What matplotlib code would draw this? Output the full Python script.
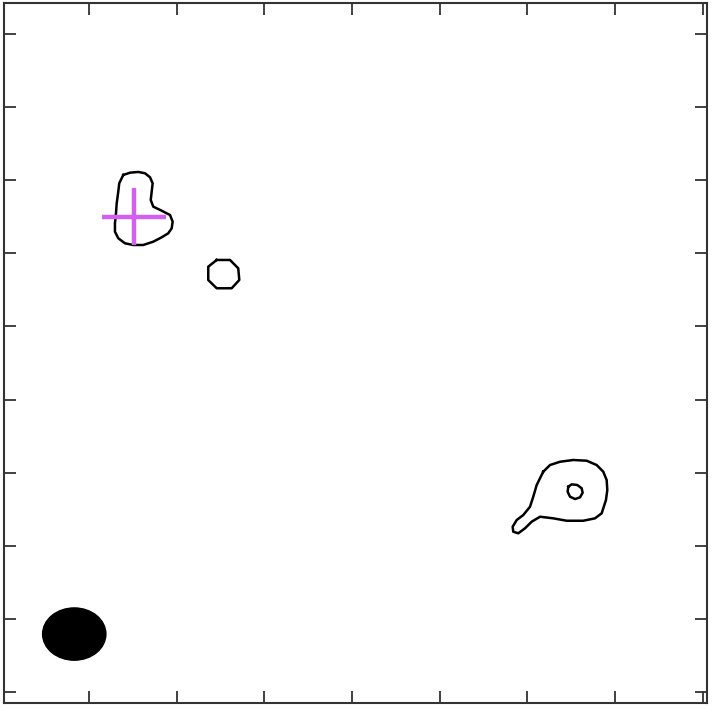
#!/usr/bin/env python3
import numpy as np
import matplotlib
matplotlib.use('Agg')
import matplotlib.pyplot as plt
from matplotlib.patches import Ellipse

# contour outlines (offset units, tick spacing = 1)
blob_x = [1.391, 1.468, 1.562, 1.639, 1.696, 1.726, 1.715, 1.704, 1.733, 1.829, 1.924, 1.954, 1.943,
          1.904, 1.829, 1.733, 1.619, 1.505, 1.410, 1.334, 1.296, 1.296, 1.308, 1.316, 1.334, 1.345]
blob_y = [7.073, 7.104, 7.114, 7.096, 7.041, 6.959, 6.844, 6.731, 6.639, 6.584, 6.525, 6.434, 6.343,
          6.275, 6.220, 6.160, 6.115, 6.115, 6.138, 6.207, 6.297, 6.412, 6.549, 6.685, 6.844, 6.959]

ring_x = [2.456, 2.608, 2.702, 2.714, 2.627, 2.456, 2.360, 2.360]
ring_y = [5.910, 5.910, 5.796, 5.636, 5.523, 5.523, 5.636, 5.818]

tail_x = [6.180, 6.257, 6.371, 6.522, 6.675, 6.789, 6.864, 6.903, 6.910, 6.895, 6.846, 6.770, 6.636,
          6.447, 6.294, 6.143, 6.048, 5.971, 5.895, 5.838, 5.831, 5.877, 5.952, 6.029, 6.066, 6.105]
tail_y = [3.014, 3.105, 3.150, 3.174, 3.164, 3.105, 3.014, 2.900, 2.763, 2.627, 2.445, 2.376, 2.343,
          2.343, 2.376, 2.398, 2.330, 2.239, 2.171, 2.193, 2.261, 2.353, 2.421, 2.535, 2.672, 2.832]

peak_x = [6.465, 6.504, 6.568, 6.618, 6.629, 6.599, 6.542, 6.485, 6.458]
peak_y = [2.808, 2.841, 2.832, 2.787, 2.726, 2.663, 2.640, 2.672, 2.740]

contours = [(blob_x, blob_y), (ring_x, ring_y), (tail_x, tail_y), (peak_x, peak_y)]

# cross marker: centre and arm extents
cross_x, cross_y = 1.516, 6.498
cross_h = [1.148, 1.878]
cross_v = [6.115, 6.895]

# restoring beam
beam_xy = (0.832, 0.793)
beam_w, beam_h = 0.722, 0.715

xticks = [1, 2, 3, 4, 5, 6, 7, 8]
yticks = [0, 1, 2, 3, 4, 5, 6, 7, 8, 9]

fig = plt.figure(figsize=(7.12, 7.10), dpi=100)
ax = fig.add_axes([4 / 712, 7 / 710, 703 / 712, 700 / 710])

for cx, cy in contours:
    ax.plot(cx + cx[:1], cy + cy[:1], color='black', lw=1.8, solid_joinstyle='round')

ax.plot(cross_h, [cross_y, cross_y], color='#d25ff0', lw=3.2, solid_capstyle='butt')
ax.plot([cross_x, cross_x], cross_v, color='#d25ff0', lw=3.2, solid_capstyle='butt')

ax.add_patch(Ellipse(beam_xy, beam_w, beam_h, facecolor='black', edgecolor='black'))

ax.set_xlim(0.031, 8.047)
ax.set_ylim(-0.150, 9.425)
ax.set_xticks(xticks)
ax.set_yticks(yticks)
ax.tick_params(direction='in', length=8.5, width=1.3, color='#333333',
               top=True, right=True, labelbottom=False, labelleft=False)
for s in ax.spines.values():
    s.set_linewidth(1.5)
    s.set_color('#333333')

fig.savefig('out.png', dpi=100)
